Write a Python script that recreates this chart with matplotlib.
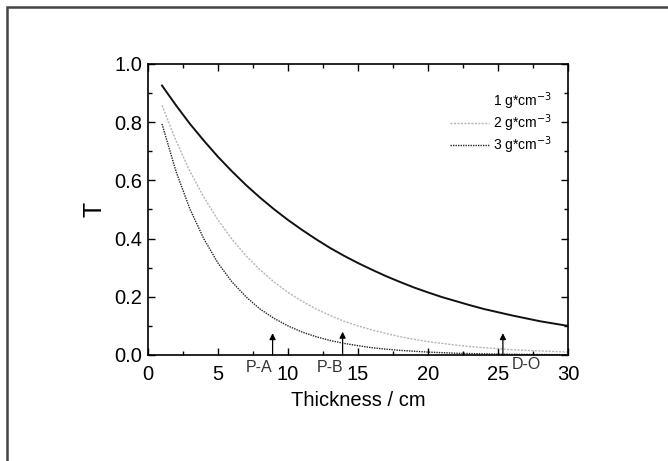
import matplotlib
matplotlib.use("Agg")
import matplotlib.pyplot as plt
from matplotlib.lines import Line2D
from matplotlib.patches import Rectangle
from matplotlib.ticker import MultipleLocator, FormatStrFormatter

plt.rcParams['font.family'] = ['Liberation Sans', 'DejaVu Sans']

# thickness (cm) and transmission
thickness = list(range(1, 31))
t_rho1 = [0.926, 0.858, 0.794, 0.736, 0.681, 0.631, 0.584, 0.541, 0.501, 0.464,
          0.430, 0.398, 0.368, 0.341, 0.316, 0.293, 0.271, 0.251, 0.232, 0.215,
          0.199, 0.185, 0.171, 0.158, 0.147, 0.136, 0.126, 0.116, 0.108, 0.100]
t_rho2 = [0.858, 0.736, 0.631, 0.541, 0.464, 0.398, 0.341, 0.293, 0.251, 0.215,
          0.185, 0.158, 0.136, 0.116, 0.100, 0.086, 0.074, 0.063, 0.054, 0.046,
          0.040, 0.034, 0.029, 0.025, 0.022, 0.018, 0.016, 0.014, 0.012, 0.010]
t_rho3 = [0.794, 0.631, 0.501, 0.398, 0.316, 0.251, 0.200, 0.158, 0.126, 0.100,
          0.079, 0.063, 0.050, 0.040, 0.032, 0.025, 0.020, 0.016, 0.013, 0.010,
          0.008, 0.006, 0.005, 0.004, 0.003, 0.0025, 0.002, 0.0016, 0.0013, 0.001]
labels = ['1 g*cm$^{-3}$', '2 g*cm$^{-3}$', '3 g*cm$^{-3}$']

# marked positions
mark_x = [8.9, 13.9, 25.35]
mark_top = [0.075, 0.08, 0.075]
mark_names = ['P-A', 'P-B', 'D-O']
name_x = [7.9, 13.0, 27.0]
name_y = [-0.017, -0.017, -0.007]

fig = plt.figure(figsize=(6.68, 4.61), dpi=100)
fig.patches.append(Rectangle((7 / 668, -0.1), 1.5, 1 - 7 / 461 + 0.1,
                             transform=fig.transFigure, fill=False,
                             edgecolor='#444444', linewidth=1.8))
ax = fig.add_axes([148 / 668, 1 - 355 / 461, 420 / 668, 291 / 461])

ax.plot(thickness, t_rho1, color='#111111', lw=1.4)
ax.plot(thickness, t_rho2, color='#b5b5b5', lw=1.0, ls=(0, (1.5, 1)))
ax.plot(thickness, t_rho3, color='#222222', lw=1.0, ls=(0, (1, 0.8)))

for x, top in zip(mark_x, mark_top):
    ax.annotate('', xy=(x, top), xytext=(x, 0),
                arrowprops=dict(arrowstyle='-|>', color='black', lw=0.9,
                                mutation_scale=9, shrinkA=0, shrinkB=0))
for x, y, s in zip(name_x, name_y, mark_names):
    ax.text(x, y, s, ha='center', va='top', fontsize=11.5, color='#333333')

ax.set_xlim(0, 30)
ax.set_ylim(0, 1.0)
ax.xaxis.set_major_locator(MultipleLocator(5))
ax.xaxis.set_minor_locator(MultipleLocator(2.5))
ax.yaxis.set_major_locator(MultipleLocator(0.2))
ax.yaxis.set_minor_locator(MultipleLocator(0.1))
ax.yaxis.set_major_formatter(FormatStrFormatter('%.1f'))
ax.tick_params(which='both', direction='in', top=True, right=True, labelsize=14.5)
ax.tick_params(which='major', length=5, width=1)
ax.tick_params(which='minor', length=3, width=1)
ax.tick_params(axis='x', which='major', pad=7)
ax.tick_params(axis='y', which='major', pad=4)
for sp in ax.spines.values():
    sp.set_linewidth(1.2)

ax.set_xlabel('Thickness / cm', fontsize=14.5, labelpad=5)
ax.set_ylabel('T', fontsize=18, labelpad=6)

handles = [Line2D([], [], color='none'),
           Line2D([], [], color='#b5b5b5', lw=1.0, ls=(0, (1.5, 1))),
           Line2D([], [], color='#222222', lw=1.0, ls=(0, (1, 0.8)))]
ax.legend(handles, labels, loc='upper right', frameon=False, fontsize=10,
          handlelength=2.8, handletextpad=0.3, labelspacing=0.02, borderpad=0,
          borderaxespad=0, bbox_to_anchor=(0.962, 0.91))

fig.savefig('out.png', dpi=100)
